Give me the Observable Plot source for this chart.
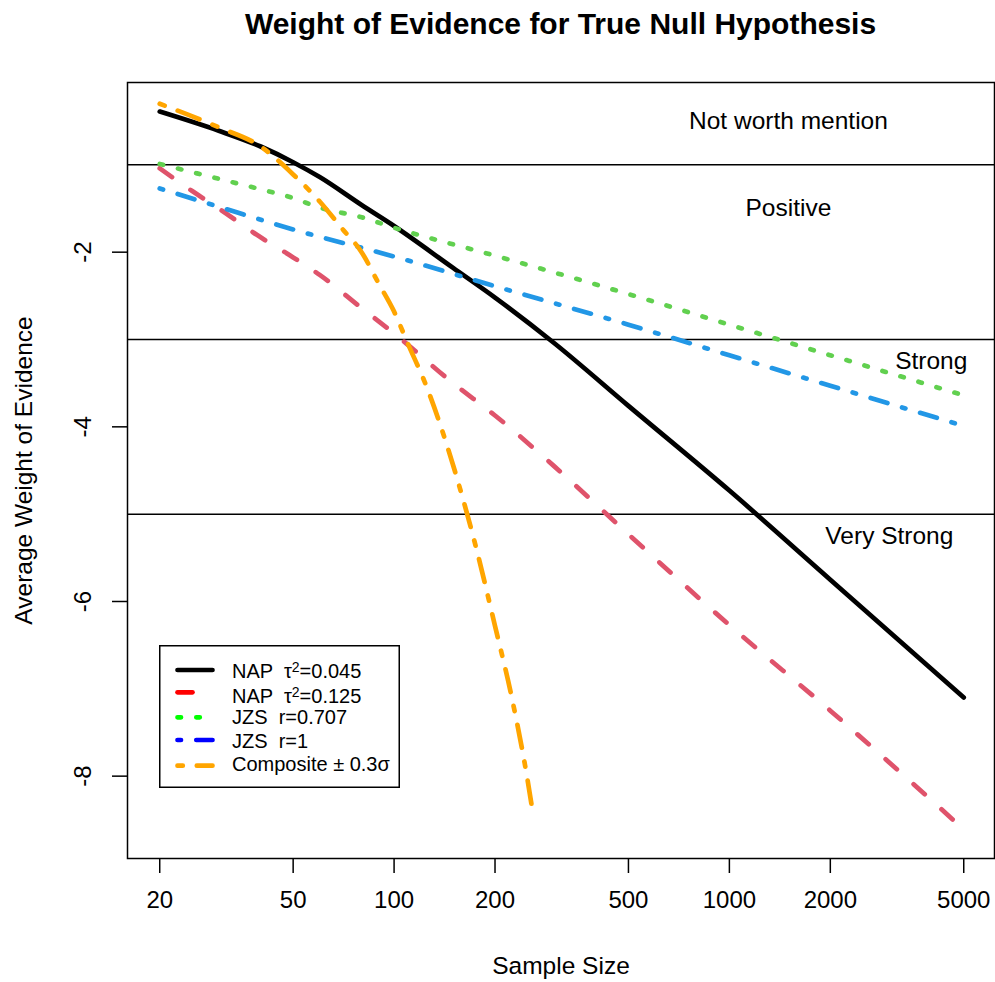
<!DOCTYPE html>
<html><head><meta charset="utf-8">
<script src="https://cdn.jsdelivr.net/npm/d3@7"></script>
<script src="https://cdn.jsdelivr.net/npm/@observablehq/plot@0.6"></script>
<style>
html,body{margin:0;padding:0;background:#fff;overflow:hidden;}
#wrap{position:relative;width:995px;height:982px;font-family:"Liberation Sans",Arial,Helvetica,sans-serif;color:#000;}
#title{position:absolute;left:160.5px;width:800px;top:8.5px;line-height:30px;font-size:30px;font-weight:bold;text-align:center;white-space:nowrap;}
#chart{position:absolute;left:0;top:50px;}
#legend{position:absolute;left:159px;top:645px;overflow:visible;}
</style></head>
<body>
<div id="wrap">
  <div id="title">Weight of Evidence for True Null Hypothesis</div>
  <div id="chart"></div>
  <svg id="legend" width="241" height="143"></svg>
</div>
<script>
// ---- data ----
const nNap045 = [20, 30, 40, 50, 60, 80, 100, 150, 200, 300, 500, 1000, 2000, 5000];
const wNap045 = [-0.39, -0.61, -0.79, -0.97, -1.14, -1.46, -1.70, -2.18, -2.52, -3.04, -3.76, -4.73, -5.75, -7.10];

const nNap125 = [20, 25, 30, 40, 50, 60, 80, 100, 150, 200, 300, 500, 1000, 2000, 5000];
const wNap125 = [-1.04, -1.30, -1.50, -1.83, -2.06, -2.26, -2.64, -2.93, -3.50, -3.87, -4.45, -5.23, -6.27, -7.25, -8.61];

const nJzs707 = [20, 30, 40, 50, 60, 80, 100, 200, 500, 1000, 2000, 5000];
const wJzs707 = [-0.99, -1.16, -1.28, -1.38, -1.49, -1.60, -1.72, -2.04, -2.48, -2.83, -3.18, -3.64];

const nJzs1 = [20, 30, 50, 100, 200, 500, 1000, 2000, 5000];
const wJzs1 = [-1.27, -1.48, -1.74, -2.05, -2.39, -2.83, -3.18, -3.53, -3.99];

const nComp = [20, 30, 40, 50, 60, 70, 80, 90, 100, 110, 125, 150, 175, 200, 225, 250, 260];
const wComp = [-0.30, -0.57, -0.79, -1.11, -1.42, -1.73, -2.00, -2.36, -2.68, -3.05, -3.54, -4.44, -5.36, -6.28, -7.12, -8.04, -8.45];

const seriesNames = ["NAP τ2=0.045", "NAP τ2=0.125", "JZS r=0.707", "JZS r=1", "Composite ± 0.3σ"];

const bandLines = [-1, -3, -5];
const zoneText = ["Not worth mention", "Positive", "Strong", "Very Strong"];
const zoneX = [1500, 1500, 4000, 3000];
const zoneY = [-0.5, -1.5, -3.25, -5.25];

const xTicks = [20, 50, 100, 200, 500, 1000, 2000, 5000];
const yTicks = [-2, -4, -6, -8];

// ---- styles (kept apart from the data) ----
const LW = 4.7;
const lineStyles = [
  {color: "#000000", dash: null,                  legendColor: "#000000"},
  {color: "#DF536B", dash: "15,22.5",             legendColor: "#FF0000"},
  {color: "#61D04F", dash: "3.5,15.3",            legendColor: "#00FF00"},
  {color: "#2297E6", dash: "3.5,15.3,17.5,15.3",  legendColor: "#0000FF"},
  {color: "#FFA500", dash: "5.3,14,23.4,14",      legendColor: "#FFA500"}
];
const seriesData = [
  [nNap045, wNap045], [nNap125, wNap125], [nJzs707, wJzs707], [nJzs1, wJzs1], [nComp, wComp]
].map(([ns, ws]) => ns.map((n, i) => ({n, w: ws[i]})));

const FONT = '"Liberation Sans", Arial, Helvetica, sans-serif';

const lineMarks = seriesData.map((rows, i) => Plot.line(rows, {
  x: "n", y: "w",
  stroke: lineStyles[i].color,
  strokeWidth: LW,
  strokeDasharray: lineStyles[i].dash || undefined,
  strokeLinecap: "round",
  strokeLinejoin: "round",
  curve: "monotone-x"
}));

const chart = Plot.plot({
  width: 995,
  height: 932,
  marginTop: 32,
  marginBottom: 124,
  marginLeft: 127,
  marginRight: 1,
  style: {fontFamily: FONT, background: "white", color: "black", overflow: "visible"},
  x: {type: "log", domain: [16.03, 6176]},
  y: {domain: [-8.943, -0.057]},
  marks: [
    Plot.ruleY(bandLines, {stroke: "black", strokeWidth: 1.5}),
    ...lineMarks,
    Plot.frame({stroke: "black", strokeWidth: 1.5}),
    Plot.axisX({ticks: xTicks, tickFormat: () => "", tickSize: 15, strokeWidth: 1.5, label: null}),
    Plot.text(xTicks, {x: d => d, text: d => String(d), frameAnchor: "bottom", dy: 49,
                       textAnchor: "middle", fontSize: 24}),
    Plot.axisY({ticks: yTicks, tickFormat: () => "", tickSize: 15, strokeWidth: 1.5, label: null}),
    Plot.text(yTicks, {y: d => d, text: d => String(d), frameAnchor: "left", dx: -44.5,
                       textAnchor: "middle", rotate: -90, fontSize: 24}),
    Plot.text(zoneText, {x: zoneX, y: zoneY, text: d => d, fontSize: 24.5}),
    Plot.text(["Sample Size"], {frameAnchor: "bottom", dy: 115, textAnchor: "middle",
                                text: d => d, fontSize: 24.5}),
    Plot.text(["Average Weight of Evidence"], {frameAnchor: "left", dx: -103, rotate: -90,
                                               textAnchor: "middle", text: d => d, fontSize: 24.5})
  ]
});
document.getElementById("chart").appendChild(chart);

// ---- legend ----
const lg = d3.select("#legend");
lg.append("rect").attr("x", 0.75).attr("y", 0.75).attr("width", 239.5).attr("height", 141.5)
  .attr("fill", "white").attr("stroke", "black").attr("stroke-width", 1.5);
const rowLineY = [25, 47.3, 72.3, 95, 120.7];
const rowTextY = [33.3, 58.3, 79.3, 103.3, 126];
seriesNames.forEach((name, i) => {
  lg.append("line").attr("x1", 18.5).attr("x2", 53.5)
    .attr("y1", rowLineY[i]).attr("y2", rowLineY[i])
    .attr("stroke", lineStyles[i].legendColor).attr("stroke-width", LW)
    .attr("stroke-linecap", "round")
    .attr("stroke-dasharray", lineStyles[i].dash || null);
  const t = lg.append("text").attr("x", 73).attr("y", rowTextY[i])
    .attr("font-family", FONT).attr("font-size", 20).style("white-space", "pre");
  const m = name.match(/^(.*τ)2(=.*)$/);
  if (m) {
    const parts = m[1].split(" ");
    t.append("tspan").text(parts[0] + "  " + parts.slice(1).join(" "));
    t.append("tspan").attr("dy", -6).attr("font-size", 14).text("2");
    t.append("tspan").attr("dy", 6).text(m[2]);
  } else {
    const sp = name.indexOf(" ");
    const label = name.startsWith("JZS") ? name.slice(0, sp) + "  " + name.slice(sp + 1) : name;
    t.text(label);
  }
});
</script>
</body></html>
